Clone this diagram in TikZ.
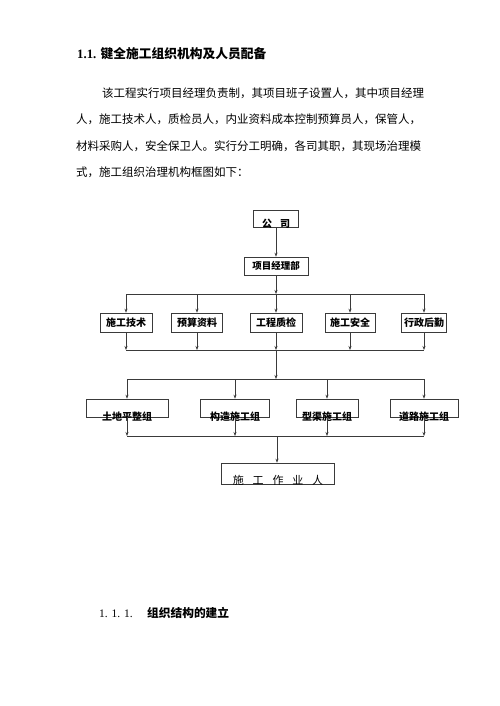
\documentclass[tikz,border=0pt]{standalone}
\usepackage{fontspec}
\setmainfont{Liberation Serif}
\newfontfamily\cjk{Noto Sans CJK SC}
\usetikzlibrary{arrows.meta}
\definecolor{lncol}{HTML}{3A3A3A}
\begin{document}
\begin{tikzpicture}[x=1pt,y=-1pt,
  box/.style={draw=lncol, line width=0.6pt, inner sep=0pt, fill=none},
  lbl/.style={inner sep=0pt, font=\cjk\bfseries\fontsize{10}{12}\selectfont},
  txt/.style={inner sep=0pt, anchor=base west, font=\cjk\fontsize{11.5}{14}\selectfont},
  ln/.style={draw=lncol, line width=0.6pt},
  arr/.style={draw=lncol, line width=0.6pt, -{Stealth[length=4pt,width=3pt]}}]
\useasboundingbox (0,0) rectangle (500,706);

% heading and paragraph
\node[inner sep=0pt, anchor=base west] (h1) at (77,59)
  {\fontsize{12.75}{15}\selectfont\bfseries 1.1. {\cjk\bfseries 键全施工组织机构及人员配备}};
\node[txt] (p1) at (102,97.5) {该工程实行项目经理负责制，其项目班子设置人，其中项目经理};
\node[txt] (p2) at (76,123.5) {人，施工技术人，质检员人，内业资料成本控制预算员人，保管人，};
\node[txt] (p3) at (76,150.5) {材料采购人，安全保卫人。实行分工明确，各司其职，其现场治理模};
\node[txt] (p4) at (76,176.5) {式，施工组织治理机构框图如下：};

% top boxes
\node[box, minimum width=45pt, minimum height=17pt] (gs) at (276,218.5) {};
\node[lbl, anchor=base] (gst) at ([yshift=-0.5pt]gs.south) {公\hspace{0.8em}司};
\node[box, minimum width=64pt, minimum height=18pt] (xm) at (276,266) {};
\node[lbl, font=\cjk\bfseries\fontsize{9.5}{11}\selectfont] (xmt) at (xm) {项目经理部};

% row 1
\node[box, minimum width=52pt, minimum height=19pt] (a1) at (126,322.5) {};
\node[box, minimum width=51pt, minimum height=19pt] (a2) at (197,322.5) {};
\node[box, minimum width=52pt, minimum height=19pt] (a3) at (276,322.5) {};
\node[box, minimum width=50pt, minimum height=19pt] (a4) at (350,322.5) {};
\node[box, minimum width=45pt, minimum height=19pt] (a5) at (424,322.5) {};
\node[lbl] (a1t) at (a1) {施工技术};
\node[lbl] (a2t) at (a2) {预算资料};
\node[lbl] (a3t) at (a3) {工程质检};
\node[lbl] (a4t) at (a4) {施工安全};
\node[lbl] (a5t) at (a5) {行政后勤};

% row 2
\node[box, minimum width=82pt, minimum height=18pt] (b1) at (127,408) {};
\node[box, minimum width=69pt, minimum height=18pt] (b2) at (235,408) {};
\node[box, minimum width=62pt, minimum height=18pt] (b3) at (327,408) {};
\node[box, minimum width=68pt, minimum height=18pt] (b4) at (424,408) {};
\node[lbl, anchor=base] (b1t) at ([yshift=-3.5pt]b1.south) {土地平整组};
\node[lbl, anchor=base] (b2t) at ([yshift=-3.5pt]b2.south) {构造施工组};
\node[lbl, anchor=base] (b3t) at ([yshift=-3.5pt]b3.south) {型渠施工组};
\node[lbl, anchor=base] (b4t) at ([yshift=-3.5pt]b4.south) {道路施工组};

% bottom box
\node[box, minimum width=113pt, minimum height=21pt] (zy) at (278,473.5) {};
\node[lbl, anchor=base, font=\cjk\fontsize{11}{13}\selectfont] (zyt) at ([yshift=0pt]zy.south) {施\hspace{0.8em}工\hspace{0.8em}作\hspace{0.8em}业\hspace{0.8em}人};

% bus coordinates
\coordinate (u1) at (276,294);
\coordinate (d1) at (276,350);
\coordinate (u2) at (276,379);
\coordinate (d2) at (277,436);

% connectors
\draw[arr] (gs) -- (xm);
\draw[arr] (xm) -- (u1);
\draw[ln] (a1.north |- u1) -- (a5.north |- u1);
\foreach \n in {a1,a2,a3,a4,a5} {
  \draw[arr] (\n.north |- u1) -- (\n.north);
  \draw[arr] (\n.south) -- (\n.south |- d1);
}
\draw[ln] (a1.south |- d1) -- (a5.south |- d1);
\draw[arr] (d1) -- (u2);
\draw[ln] (b1.north |- u2) -- (b4.north |- u2);
\foreach \n in {b1,b2,b3,b4} {
  \draw[arr] (\n.north |- u2) -- (\n.north);
  \draw[arr] (\n.south) -- (\n.south |- d2);
}
\draw[ln] (b1.south |- d2) -- (b4.south |- d2);
\draw[arr] (d2) -- (zy.north -| d2);

% section heading
\node[inner sep=0pt, anchor=base west, font=\fontsize{11.5}{14}\selectfont] (s1) at (99,617.5) {1. 1. 1.};
\node[txt, font=\cjk\bfseries\fontsize{11.7}{14}\selectfont] (s2) at (147,617.5) {组织结构的建立};
\end{tikzpicture}
\end{document}
